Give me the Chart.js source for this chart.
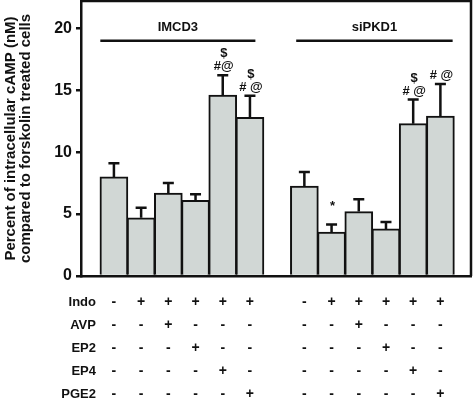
<!DOCTYPE html>
<html>
<head>
<meta charset="utf-8">
<script src="https://cdn.jsdelivr.net/npm/chart.js@4"></script>
<style>
body { margin: 0; background: #fff; }
#wrap { width: 474px; height: 405px; }
</style>
</head>
<body>
<div id="wrap"><canvas id="campChart"></canvas></div>
<script>
const groups = ['IMCD3', 'siPKD1'];
const imcd3Mean = [8.0, 4.7, 6.7, 6.1, 14.6, 12.8];
const imcd3Err = [1.1, 0.8, 0.8, 0.5, 1.6, 1.75];
const sipkd1Mean = [7.25, 3.55, 5.2, 3.8, 12.3, 12.9];
const sipkd1Err = [1.15, 0.6, 1.0, 0.55, 1.95, 2.6];
const imcd3Marks = ['', '', '', '', '$\n#@', '$\n# @'];
const sipkd1Marks = ['', '*', '', '', '$\n# @', '# @'];
const rowNames = ['Indo', 'AVP', 'EP2', 'EP4', 'PGE2'];
const indo = ['-', '+', '+', '+', '+', '+'];
const avp = ['-', '-', '+', '-', '-', '-'];
const ep2 = ['-', '-', '-', '+', '-', '-'];
const ep4 = ['-', '-', '-', '-', '+', '-'];
const pge2 = ['-', '-', '-', '-', '-', '+'];
const yTicks = [0, 5, 10, 15, 20];

const means = [imcd3Mean, sipkd1Mean];
const errs = [imcd3Err, sipkd1Err];
const marks = [imcd3Marks, sipkd1Marks];
const rows = [indo, avp, ep2, ep4, pge2];
const FONT = 'Arial, "Liberation Sans", sans-serif';

// x position of a bar: groups sit 7 slots apart (one empty slot between)
const xOf = (g, i) => g * 7 + i;

// error bars, significance marks, group headers, frame and treatment table
const extras = {
    id: 'extras',
    afterDatasetsDraw(chart) {
        const ctx = chart.ctx;
        const x = chart.scales.x, y = chart.scales.y;
        const area = chart.chartArea;
        ctx.save();
        ctx.strokeStyle = '#111';
        ctx.fillStyle = '#111';
        ctx.lineWidth = 2.5;

        chart.data.datasets.forEach((ds, g) => {
            chart.getDatasetMeta(g).data.forEach((bar, i) => {
                const top = y.getPixelForValue(means[g][i] + errs[g][i]);
                ctx.beginPath();
                ctx.moveTo(bar.x, bar.y);
                ctx.lineTo(bar.x, top);
                ctx.moveTo(bar.x - 5.5, top);
                ctx.lineTo(bar.x + 5.5, top);
                ctx.stroke();

                const lines = marks[g][i] ? marks[g][i].split('\n') : [];
                ctx.font = 'bold 13px ' + FONT;
                ctx.textAlign = 'center';
                ctx.textBaseline = 'bottom';
                lines.reverse().forEach((t, k) => {
                    const off = t === '*' ? 12 : 2;
                    ctx.fillText(t, bar.x + 1, top - off - k * 13);
                });
            });
        });

        // group headers
        const spans = [[-0.5, 5.2], [6.7, 12.45]];
        ctx.font = 'bold 13px ' + FONT;
        ctx.textAlign = 'center';
        ctx.textBaseline = 'middle';
        groups.forEach((name, g) => {
            const x0 = x.getPixelForValue(spans[g][0]);
            const x1 = x.getPixelForValue(spans[g][1]);
            const ly = y.getPixelForValue(19);
            ctx.beginPath();
            ctx.moveTo(x0, ly);
            ctx.lineTo(x1, ly);
            ctx.stroke();
            ctx.fillText(name, (x0 + x1) / 2, y.getPixelForValue(20.1));
        });

        // top and right frame
        ctx.beginPath();
        ctx.moveTo(area.left, area.top);
        ctx.lineTo(area.right, area.top);
        ctx.lineTo(area.right, area.bottom);
        ctx.stroke();

        // treatment table below the axis
        rowNames.forEach((name, r) => {
            const ry = area.bottom + 26 + r * 23;
            ctx.font = 'bold 13px ' + FONT;
            ctx.textAlign = 'right';
            ctx.fillText(name, x.getPixelForValue(-0.66), ry);
            ctx.textAlign = 'center';
            ctx.font = 'bold 14px ' + FONT;
            groups.forEach((g, gi) => {
                rows[r].forEach((s, i) => {
                    ctx.fillText(s, x.getPixelForValue(xOf(gi, i)), ry);
                });
            });
        });
        ctx.restore();
    }
};

new Chart(document.getElementById('campChart'), {
    type: 'bar',
    data: {
        datasets: groups.map((name, g) => ({
            label: name,
            data: means[g].map((v, i) => ({ x: xOf(g, i), y: v })),
            backgroundColor: '#d1d7d5',
            borderColor: '#111',
            borderWidth: 2,
            barThickness: 28,
            grouped: false
        }))
    },
    options: {
        responsive: true,
        maintainAspectRatio: false,
        animation: false,
        layout: { padding: { top: 1, right: 3, left: 0, bottom: 0 } },
        plugins: {
            legend: { display: false },
            tooltip: { enabled: false }
        },
        scales: {
            x: {
                type: 'linear',
                offset: false,
                min: -1.21,
                max: 13.125,
                ticks: { display: false },
                grid: { display: false },
                border: { color: '#111', width: 2.5 },
                afterFit: s => { s.height = 129; }
            },
            y: {
                min: 0,
                max: 22.2,
                afterBuildTicks: s => { s.ticks = yTicks.map(v => ({ value: v })); },
                afterFit: s => {
                    s.width = 81;
                    s.paddingTop = 0;
                    s.paddingBottom = 0;
                },
                ticks: {
                    color: '#111',
                    padding: 4,
                    font: { family: FONT, size: 16, weight: 'bold' }
                },
                grid: {
                    drawOnChartArea: false,
                    drawTicks: true,
                    tickLength: 5,
                    color: '#111',
                    lineWidth: 2.5
                },
                border: { color: '#111', width: 2.5 },
                title: {
                    display: true,
                    text: ['Percent of intracellular cAMP (nM)', 'compared to forskolin treated cells'],
                    color: '#111',
                    padding: { top: 3, bottom: 0 },
                    font: { family: FONT, size: 15, weight: 'bold', lineHeight: 1 }
                }
            }
        }
    },
    plugins: [extras]
});
</script>
</body>
</html>
